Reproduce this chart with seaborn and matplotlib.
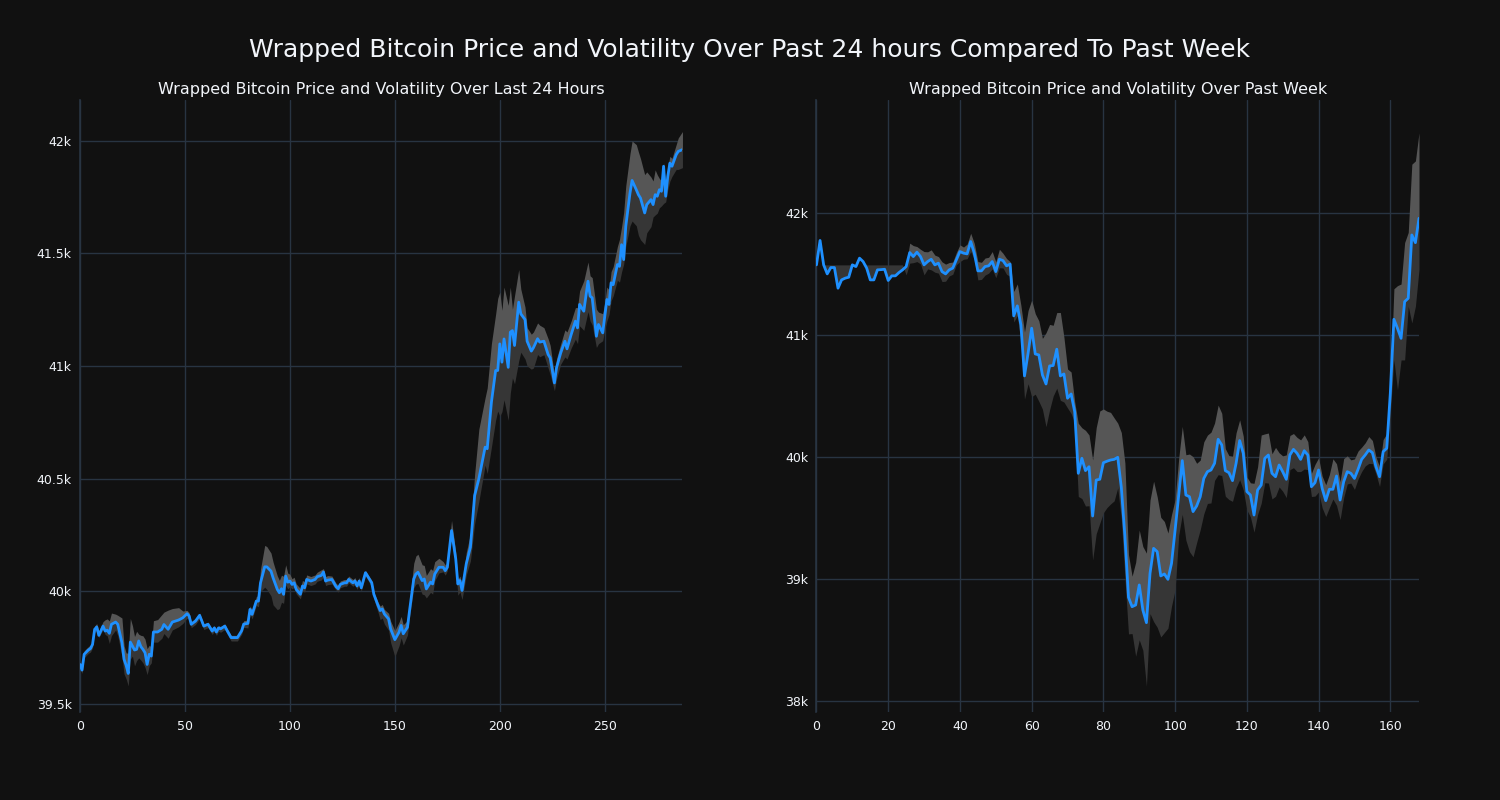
import matplotlib
matplotlib.use("Agg")
import matplotlib.pyplot as plt
import numpy as np
import pandas as pd
import seaborn as sns
from matplotlib.ticker import FuncFormatter, MultipleLocator

# ---------------- data: last 24 hours (5-minute steps) ----------------
day_x = [0, 1, 2, 4, 5, 6, 7, 8, 9, 11,
         12, 13, 14, 15, 17, 18, 20, 21, 22, 23,
         24, 25, 26, 27, 28, 29, 30, 31, 32, 33,
         34, 35, 37, 39, 40, 42, 44, 47, 49, 51,
         52, 53, 55, 57, 59, 61, 63, 64, 65, 66,
         67, 69, 70, 72, 75, 77, 78, 80, 81, 82,
         84, 85, 86, 88, 89, 91, 92, 94, 95, 96,
         97, 98, 99, 100, 101, 102, 103, 105, 106, 107,
         108, 110, 112, 113, 115, 116, 117, 118, 120, 122,
         123, 124, 126, 127, 128, 130, 131, 132, 133, 134,
         136, 137, 139, 140, 142, 143, 144, 145, 147, 148,
         150, 152, 153, 154, 156, 157, 159, 160, 161, 163,
         164, 165, 167, 168, 169, 171, 173, 174, 175, 177,
         179, 180, 181, 182, 184, 186, 188, 190, 193, 194,
         196, 198, 199, 200, 201, 202, 204, 205, 206, 207,
         209, 210, 212, 213, 215, 216, 218, 219, 221, 223,
         224, 226, 227, 229, 231, 232, 234, 236, 237, 238,
         240, 242, 243, 244, 246, 247, 249, 250, 251, 252,
         253, 254, 256, 257, 258, 259, 260, 262, 263, 265,
         266, 267, 269, 270, 272, 273, 274, 275, 276, 277,
         278, 279, 280, 281, 282, 284, 285, 287]
day_price = [39676, 39651, 39721, 39740, 39746, 39765, 39832, 39842, 39805, 39846,
             39824, 39828, 39814, 39854, 39864, 39854, 39772, 39699, 39672, 39636,
             39775, 39758, 39740, 39743, 39780, 39755, 39743, 39728, 39676, 39721,
             39713, 39820, 39820, 39832, 39853, 39832, 39864, 39873, 39883, 39901,
             39891, 39854, 39868, 39894, 39846, 39854, 39824, 39838, 39820, 39838,
             39834, 39846, 39828, 39795, 39795, 39825, 39855, 39858, 39920, 39898,
             39957, 39957, 40038, 40109, 40109, 40090, 40060, 40009, 39994, 40012,
             39987, 40068, 40041, 40046, 40031, 40038, 40009, 39987, 40024, 40016,
             40053, 40046, 40053, 40065, 40071, 40086, 40046, 40050, 40053, 40021,
             40012, 40031, 40038, 40038, 40053, 40038, 40046, 40024, 40046, 40016,
             40083, 40068, 40038, 39987, 39937, 39915, 39922, 39900, 39878, 39833,
             39786, 39819, 39849, 39812, 39841, 39915, 40055, 40077, 40085, 40048,
             40055, 40011, 40041, 40033, 40077, 40107, 40107, 40092, 40107, 40270,
             40144, 40033, 40048, 40004, 40122, 40196, 40425, 40499, 40640, 40633,
             40840, 40980, 40980, 41098, 41017, 41120, 40994, 41150, 41157, 41091,
             41283, 41231, 41206, 41110, 41066, 41081, 41121, 41106, 41110, 41051,
             41036, 40925, 40992, 41058, 41110, 41076, 41140, 41199, 41169, 41273,
             41243, 41376, 41310, 41302, 41132, 41184, 41147, 41221, 41295, 41273,
             41369, 41361, 41450, 41442, 41538, 41472, 41620, 41767, 41823, 41782,
             41760, 41745, 41679, 41716, 41738, 41716, 41760, 41753, 41782, 41775,
             41886, 41753, 41841, 41900, 41886, 41937, 41952, 41960]
day_vol_up = [15, 20, 15, 15, 15, 15, 15, 15, 20, 20,
              50, 50, 55, 50, 35, 40, 110, 60, 55, 90,
              105, 90, 60, 80, 30, 50, 60, 60, 70, 40,
              40, 50, 55, 65, 55, 85, 60, 55, 30, 15,
              15, 12, 12, 10, 10, 10, 10, 10, 10, 10,
              10, 10, 10, 10, 10, 15, 15, 15, 15, 20,
              20, 25, 60, 95, 90, 80, 70, 60, 55, 60,
              80, 50, 40, 30, 25, 25, 25, 25, 25, 25,
              20, 20, 20, 20, 25, 15, 20, 20, 15, 15,
              15, 15, 15, 15, 15, 15, 15, 15, 15, 15,
              10, 10, 10, 10, 15, 20, 20, 20, 25, 35,
              40, 45, 40, 40, 30, 40, 70, 80, 80, 70,
              60, 60, 60, 60, 55, 40, 25, 25, 20, 45,
              30, 20, 20, 25, 50, 60, 95, 220, 220, 270,
              260, 250, 320, 230, 230, 230, 275, 200, 95, 220,
              145, 110, 55, 60, 75, 70, 70, 75, 60, 70,
              55, 35, 40, 40, 50, 75, 60, 60, 90, 60,
              135, 85, 90, 90, 120, 55, 85, 60, 55, 65,
              50, 80, 80, 120, 80, 210, 180, 175, 175, 200,
              190, 175, 170, 145, 100, 105, 110, 95, 50, 45,
              15, 45, 40, 30, 35, 45, 60, 80]
day_vol_dn = [15, 15, 15, 15, 15, 15, 15, 15, 10, 15,
              15, 25, 45, 50, 35, 50, 60, 65, 60, 55,
              75, 45, 70, 50, 75, 60, 60, 65, 45, 50,
              30, 45, 45, 40, 40, 40, 35, 30, 25, 20,
              15, 15, 15, 15, 15, 15, 15, 15, 15, 15,
              15, 15, 15, 15, 15, 15, 15, 20, 20, 20,
              20, 25, 40, 90, 100, 110, 120, 90, 70, 60,
              40, 40, 30, 25, 20, 20, 20, 20, 20, 20,
              20, 20, 20, 20, 20, 20, 20, 20, 20, 15,
              15, 15, 15, 15, 15, 15, 15, 15, 15, 15,
              15, 15, 20, 20, 30, 40, 40, 45, 50, 60,
              75, 60, 55, 50, 35, 30, 40, 45, 50, 60,
              70, 40, 45, 45, 30, 25, 20, 20, 15, 30,
              40, 50, 50, 40, 50, 60, 125, 100, 80, 110,
              200, 220, 180, 320, 220, 270, 235, 270, 210, 170,
              260, 170, 175, 110, 80, 90, 70, 65, 60, 60,
              75, 35, 50, 50, 70, 45, 60, 80, 70, 95,
              85, 135, 110, 120, 50, 85, 35, 60, 95, 45,
              80, 50, 70, 70, 120, 20, 90, 145, 180, 160,
              180, 185, 140, 125, 120, 55, 90, 75, 80, 65,
              165, 25, 60, 80, 45, 65, 80, 80]

# ---------------- data: past week (hourly) ----------------
week_x = list(range(169))
week_price = [41574, 41774, 41574, 41500, 41552, 41552, 41383, 41451, 41465, 41473,
              41574, 41560, 41629, 41601, 41547, 41451, 41451, 41533, 41535, 41538,
              41446, 41484, 41484, 41511, 41533, 41560, 41675, 41642, 41678, 41642,
              41574, 41601, 41620, 41574, 41588, 41519, 41500, 41533, 41547, 41615,
              41683, 41670, 41664, 41765, 41670, 41525, 41525, 41560, 41566, 41601,
              41519, 41620, 41609, 41566, 41580, 41156, 41238, 41082, 40664, 40850,
              41055, 40844, 40836, 40672, 40598, 40746, 40749, 40883, 40664, 40680,
              40481, 40516, 40371, 39866, 39989, 39888, 39920, 39516, 39811, 39817,
              39953, 39965, 39975, 39980, 39997, 39750, 39350, 38850, 38773, 38787,
              38951, 38746, 38642, 39046, 39251, 39224, 39025, 39041, 38997, 39128,
              39402, 39688, 39970, 39688, 39674, 39552, 39598, 39674, 39824, 39879,
              39893, 39948, 40145, 40098, 39888, 39871, 39806, 39948, 40134, 40030,
              39716, 39688, 39524, 39729, 39770, 39989, 40016, 39866, 39838, 39934,
              39879, 39817, 40016, 40062, 40030, 39980, 40051, 40016, 39756, 39789,
              39893, 39743, 39642, 39735, 39735, 39844, 39647, 39797, 39879, 39866,
              39824, 39898, 39980, 40016, 40057, 40035, 39920, 39838, 40043, 40071,
              40521, 41128, 41054, 40972, 41273, 41300, 41819, 41756, 41956]
week_vol_up = [0, 0, 0, 0, 0, 0, 0, 0, 0, 0,
               0, 0, 0, 0, 0, 0, 0, 0, 0, 0,
               0, 0, 0, 0, 0, 14, 77, 90, 46, 60,
               109, 80, 77, 80, 54, 80, 80, 60, 50, 60,
               55, 50, 80, 68, 80, 76, 70, 70, 70, 82,
               80, 82, 60, 60, 20, 200, 180, 160, 360, 350,
               230, 330, 280, 300, 420, 340, 330, 300, 520, 300,
               240, 180, 80, 410, 250, 330, 260, 460, 430, 560,
               440, 410, 390, 340, 280, 450, 600, 350, 250, 350,
               450, 520, 570, 600, 550, 450, 480, 430, 380, 400,
               250, 300, 280, 330, 350, 450, 350, 300, 300, 300,
               310, 330, 280, 260, 180, 140, 200, 250, 170, 140,
               120, 100, 260, 190, 410, 200, 180, 160, 240, 100,
               130, 200, 160, 130, 130, 160, 130, 110, 110, 150,
               100, 100, 130, 120, 250, 100, 150, 190, 130, 110,
               160, 150, 100, 100, 110, 100, 80, 80, 100, 120,
               50, 250, 350, 445, 484, 540, 580, 670, 700]
week_vol_dn = [0, 0, 0, -74, -22, -22, -191, -123, -109, -101,
               0, -14, 0, 0, -27, -123, -123, -41, -39, -36,
               -128, -90, -90, -63, -41, 68, 87, 50, 77, 60,
               82, 60, 87, 60, 82, 82, 60, 50, 50, 40,
               82, 50, 40, 82, 50, 74, 70, 70, 60, 60,
               50, 70, 60, 70, 100, 50, 80, 140, 190, 250,
               560, 330, 380, 280, 350, 360, 250, 320, 200, 230,
               80, 160, 90, 190, 330, 290, 320, 360, 440, 360,
               410, 380, 360, 340, 250, 260, 340, 300, 220, 420,
               450, 330, 520, 330, 600, 620, 500, 480, 400, 350,
               490, 330, 440, 370, 450, 370, 300, 270, 290, 260,
               270, 140, 290, 250, 210, 220, 170, 200, 320, 300,
               150, 180, 140, 200, 150, 200, 230, 210, 160, 180,
               160, 150, 120, 150, 150, 100, 150, 120, 80, 110,
               180, 160, 130, 150, 80, 240, 160, 130, 100, 80,
               90, 80, 100, 90, 110, 90, 60, 80, 100, 90,
               163, 333, 505, 177, 478, 65, 721, 521, 420]

suptitle = "Wrapped Bitcoin Price and Volatility Over Past 24 hours Compared To Past Week"
titles = ["Wrapped Bitcoin Price and Volatility Over Last 24 Hours",
          "Wrapped Bitcoin Price and Volatility Over Past Week"]

BG = "#111111"
GRID = "#283442"
TXT = "#f2f5fa"
LINE = "#1e90ff"

sns.set_theme(style="darkgrid", rc={
    "figure.facecolor": BG, "axes.facecolor": BG, "savefig.facecolor": BG,
    "axes.edgecolor": GRID, "grid.color": GRID, "grid.linewidth": 1.0,
    "text.color": TXT, "xtick.color": TXT, "ytick.color": TXT,
    "axes.labelcolor": TXT,
})
plt.rcParams["font.family"] = ["DejaVu Sans"]

fig, axes = plt.subplots(1, 2, figsize=(15, 8), dpi=100)
fig.subplots_adjust(left=0.0533, right=0.946, bottom=0.11, top=0.875, wspace=0.2224)


def kfmt(v, _):
    return f"{v / 1000:g}k"


datasets = [
    (day_x, day_price, day_vol_up, day_vol_dn, (0, 287), (39465, 42180), 50, 500),
    (week_x, week_price, week_vol_up, week_vol_dn, (0, 168), (37910, 42925), 20, 1000),
]

for ax, (xs, price, vup, vdn, xlim, ylim, xstep, ystep), title in zip(axes, datasets, titles):
    df = pd.DataFrame({"x": xs, "price": price, "up": vup, "dn": vdn})
    df["upper"] = df["price"] + df["up"]
    df["lower"] = df["price"] - df["dn"]
    ax.fill_between(df["x"], df["price"], df["upper"], color="#565656", linewidth=0, zorder=1)
    ax.fill_between(df["x"], df["lower"], df["price"], color="#363636", linewidth=0, zorder=1)
    sns.lineplot(data=df, x="x", y="price", ax=ax, color=LINE, linewidth=2, zorder=3)
    ax.set_xlim(*xlim)
    ax.set_ylim(*ylim)
    ax.xaxis.set_major_locator(MultipleLocator(xstep))
    ax.yaxis.set_major_locator(MultipleLocator(ystep))
    ax.yaxis.set_major_formatter(FuncFormatter(kfmt))
    ax.set_xlabel("")
    ax.set_ylabel("")
    ax.set_title(title, fontsize=11.5, color=TXT, pad=4.5)
    ax.tick_params(axis="both", length=0, labelsize=9, pad=6, colors=TXT)
    ax.grid(True, color=GRID, linewidth=1)
    for s in ["top", "right", "bottom"]:
        ax.spines[s].set_visible(False)
    ax.spines["left"].set_color(GRID)
    ax.spines["left"].set_linewidth(1.2)

fig.suptitle(suptitle, fontsize=18, color=TXT, y=0.9375, va="center")
fig.savefig("out.png", dpi=100, facecolor=BG)
